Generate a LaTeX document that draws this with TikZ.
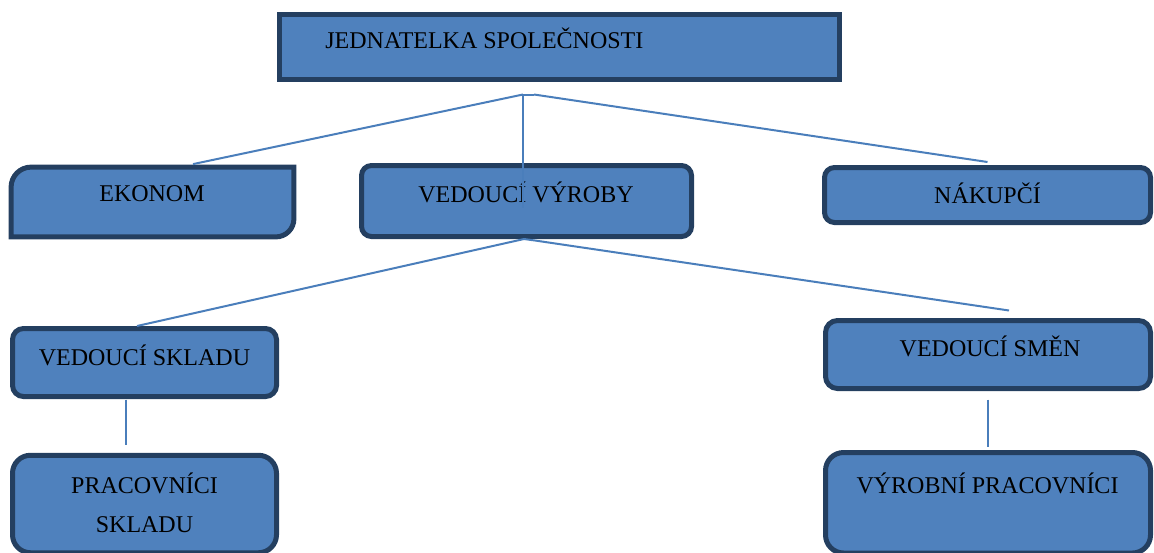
\documentclass[tikz,border=0pt]{standalone}
\usepackage{fontspec}
\setmainfont{Liberation Serif}
\definecolor{vypln}{HTML}{4F81BD}
\definecolor{okraj}{HTML}{243F60}
\definecolor{cara}{HTML}{4A7EBB}
\begin{document}
\begin{tikzpicture}[x=0.5pt, y=-0.5pt,
    krabice/.style={draw=okraj, fill=vypln, line width=2.5pt, inner sep=0pt, rounded corners=5pt},
    popis/.style={inner sep=0pt, anchor=base, font=\fontsize{12pt}{14pt}\selectfont},
    spoj/.style={draw=cara, line width=1pt}]
    % Okraje obrazku
    \useasboundingbox (0,0) rectangle (1154,552);
    \clip (0,0) rectangle (1154,552);
    % Jednatelka
    \node[krabice, sharp corners, minimum width=280pt, minimum height=32.5pt] (jed) at (559.5,47) {};
    \node[popis, anchor=base west] (tjed) at (325,48) {JEDNATELKA SPOLEČNOSTI};
    % Druha uroven
    \node[minimum width=141pt, minimum height=34.5pt, inner sep=0pt] (ekonom) at (152.5,202) {};
    \draw[draw=okraj, fill=vypln, line width=2.5pt] (ekonom.north east) -- ([yshift=9pt]ekonom.south east)
        arc[start angle=0, end angle=-90, radius=9pt] -- (ekonom.south west)
        -- ([yshift=-10pt]ekonom.north west) arc[start angle=180, end angle=90, radius=10pt] -- cycle;
    \node[popis] (tekonom) at (152,201) {EKONOM};
    \node[krabice, minimum width=165pt, minimum height=35.5pt] (vyroba) at (526.5,201) {};
    \node[popis] (tvyroba) at (526,202) {VEDOUCÍ VÝROBY};
    \node[krabice, minimum width=163pt, minimum height=27.5pt] (nakupci) at (987.5,195) {};
    \node[popis] (tnakupci) at (987.5,203) {NÁKUPČÍ};
    % Treti a ctvrta uroven
    \node[krabice, rounded corners=5.5pt, minimum width=132pt, minimum height=34pt] (skladV) at (144.5,362.5) {};
    \node[popis] (tskladV) at (144.5,365) {VEDOUCÍ SKLADU};
    \node[krabice, rounded corners=6pt, minimum width=162.5pt, minimum height=34pt] (smenV) at (988,354.5) {};
    \node[popis] (tsmenV) at (990,356) {VEDOUCÍ SMĚN};
    \node[krabice, rounded corners=9pt, minimum width=132pt, minimum height=48.75pt] (skladP) at (144.5,504) {};
    \node[popis] (tskladP) at (144.5,493) {PRACOVNÍCI};
    \node[popis] (tskladP2) at (144.5,532) {SKLADU};
    \node[krabice, rounded corners=9pt, minimum width=162.5pt, minimum height=50.25pt] (vyrobP) at (988,502.75) {};
    \node[popis] (tvyrobP) at (987.5,493) {VÝROBNÍ PRACOVNÍCI};
    % Spojnice
    \coordinate (uzelA) at ([xshift=-18.25pt,yshift=-6.25pt]jed.south);
    \coordinate (uzelB) at ([xshift=-12.75pt,yshift=-6.25pt]jed.south);
    \draw[spoj] (uzelA) -- (uzelB);
    \draw[spoj] (uzelA) -- ([xshift=20.25pt,yshift=1.5pt]ekonom.north);
    \draw[spoj] (uzelA) -- ([yshift=-3.5pt]uzelA |- vyroba.center);
    \draw[spoj] (uzelB) -- ([yshift=1.5pt]nakupci.north);
    \coordinate (uzelC) at ([xshift=-1.25pt]vyroba.south);
    \coordinate (uzelD) at ([xshift=4.25pt,yshift=-0.75pt]vyroba.south);
    \draw[spoj] (uzelC) -- (uzelD);
    \draw[spoj] (uzelC) -- ([xshift=-3.75pt]skladV.north);
    \draw[spoj] (uzelD) -- ([xshift=10.5pt,yshift=3.75pt]smenV.north);
    \draw[spoj] ([xshift=-9.25pt,yshift=-0.25pt]skladV.south) -- ([xshift=-9.25pt,yshift=3.75pt]skladP.north);
    \draw[spoj] ([yshift=-4.25pt]smenV.south) -- ([yshift=1.75pt]vyrobP.north);
\end{tikzpicture}
\end{document}
